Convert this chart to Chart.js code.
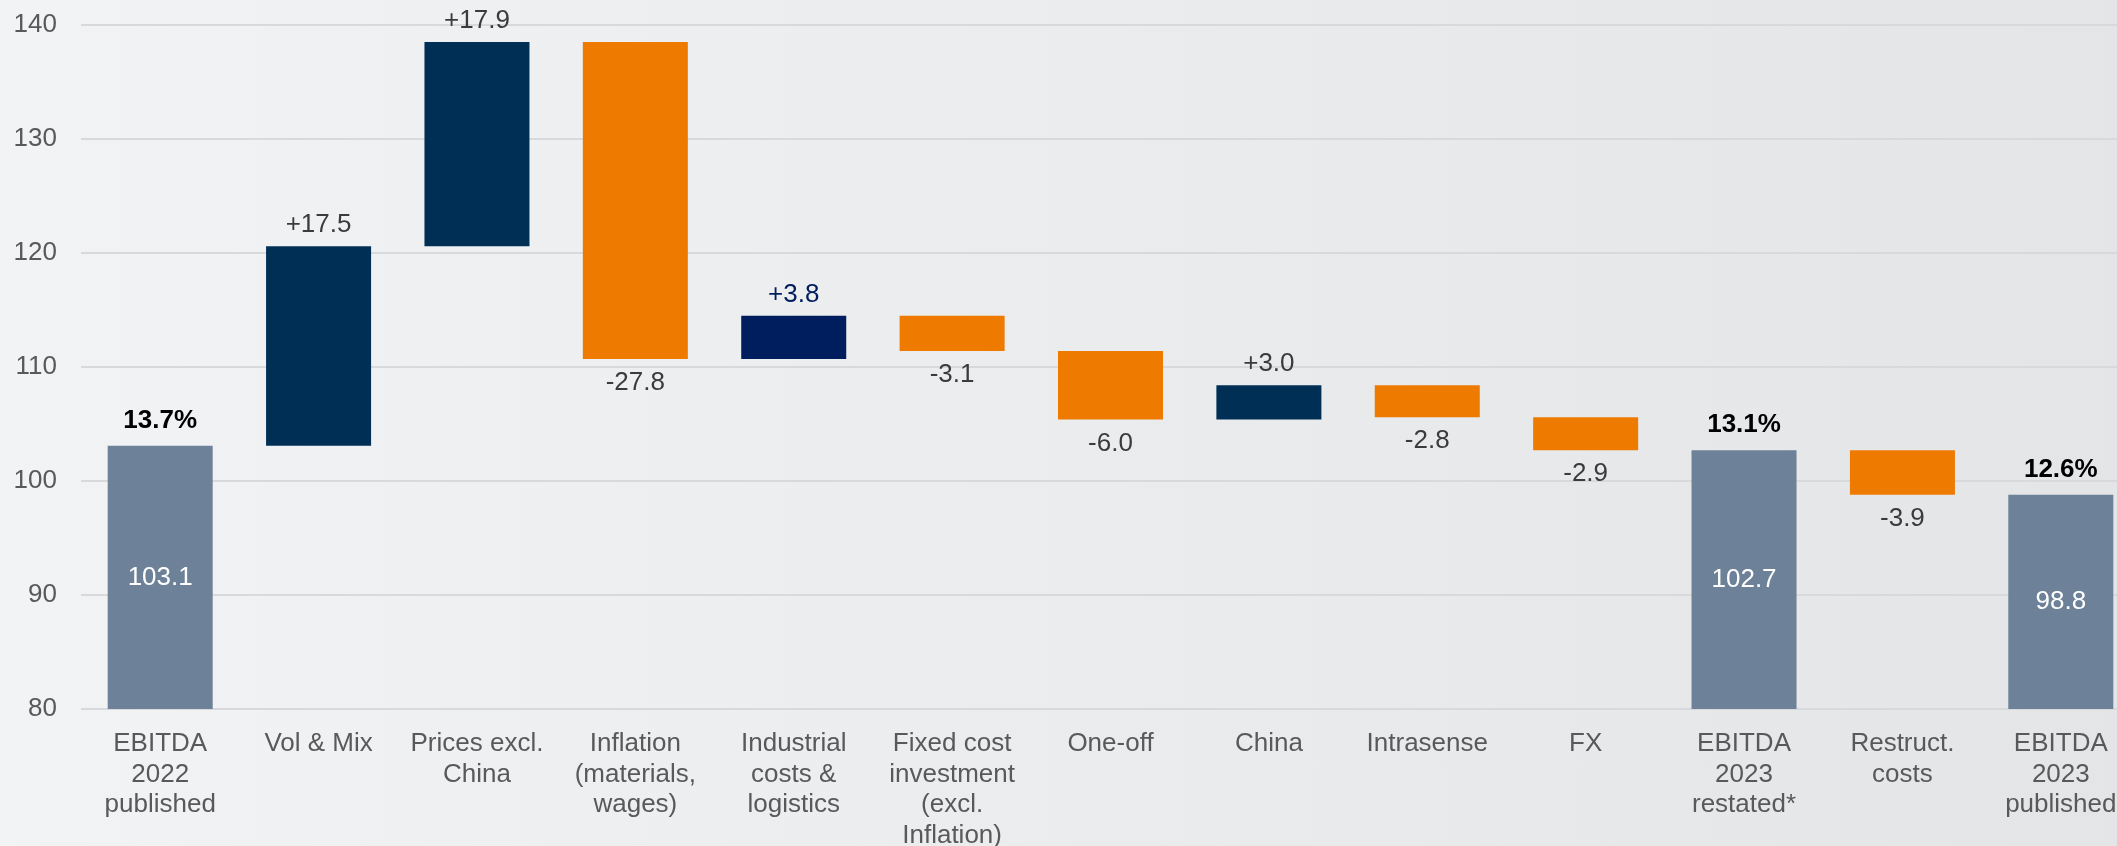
<!DOCTYPE html>
<html>
<head>
<meta charset="utf-8">
<script src="https://cdn.jsdelivr.net/npm/chart.js@4"></script>
<style>
html, body { margin: 0; padding: 0; overflow: hidden; }
body { background: linear-gradient(to right, #f2f3f5, #e4e5e7); width: 2117px; height: 846px; }
#wrap { width: 2140px; height: 846px; position: relative; }
</style>
</head>
<body>
<div id="wrap"><canvas id="bridgeChart"></canvas></div>
<script>

// ---------- DATA ----------

const categories = [
  ["EBITDA", "2022", "published"],
  "Vol & Mix",
  ["Prices excl.", "China"],
  ["Inflation", "(materials,", "wages)"],
  ["Industrial", "costs &", "logistics"],
  ["Fixed cost", "investment", "(excl.", "Inflation)"],
  "One-off",
  "China",
  "Intrasense",
  "FX",
  ["EBITDA", "2023", "restated*"],
  ["Restruct.", "costs"],
  ["EBITDA", "2023", "published"]
];

// "total" bars stand on the axis, the others float on the running sum
const barKinds = ["total", "step", "step", "step", "step", "step", "step", "step", "step", "step", "total", "step", "total"];
const barValues = [103.1, 17.5, 17.9, -27.8, 3.8, -3.1, -6.0, 3.0, -2.8, -2.9, 102.7, -3.9, 98.8];
const marginLabels = ["13.7%", "", "", "", "", "", "", "", "", "", "13.1%", "", "12.6%"];

const yMin = 80;
const yMax = 140;
const yStep = 10;


// ---------- STYLE ----------

const FONT = "'Liberation Sans', Arial, sans-serif";
const totalColor = "#6d8298";
const upColor = "#002f56";
const downColor = "#ee7a00";
const industrialIndex = 4;
const industrialColor = "#001d5e";


// ---------- BUILD WATERFALL ----------

let running = 0;
const floatingBars = barValues.map(function(v, i){
  if(barKinds[i] === "total"){
    running = v;
    return [yMin, v];
  }
  const start = running;
  running = Math.round((running + v) * 10) / 10;
  return [start, running];
});

const barColors = barValues.map(function(v, i){
  if(barKinds[i] === "total") return totalColor;
  if(i === industrialIndex) return industrialColor;
  return v > 0 ? upColor : downColor;
});


// ---------- LABEL PLUGIN ----------

const bridgeLabels = {
  id: "bridgeLabels",
  afterDatasetsDraw(chart){
    const ctx = chart.ctx;
    const meta = chart.getDatasetMeta(0);
    ctx.save();
    ctx.textAlign = "center";
    ctx.textBaseline = "middle";
    meta.data.forEach(function(bar, i){
      const top = Math.min(bar.y, bar.base);
      const bottom = Math.max(bar.y, bar.base);
      const v = barValues[i];
      if(barKinds[i] === "total"){
        ctx.font = "26px " + FONT;
        ctx.fillStyle = "#ffffff";
        ctx.fillText(v.toFixed(1), bar.x, (top + bottom) / 2);
        if(marginLabels[i]){
          ctx.font = "bold 26px " + FONT;
          ctx.fillStyle = "#000000";
          ctx.fillText(marginLabels[i], bar.x, top - 25);
        }
      } else {
        ctx.font = "26px " + FONT;
        ctx.fillStyle = (i === industrialIndex) ? industrialColor : "#3b3b3b";
        if(v > 0){
          ctx.fillText("+" + v.toFixed(1), bar.x, top - 21);
        } else {
          ctx.fillText(v.toFixed(1), bar.x, bottom + 24);
        }
      }
    });
    ctx.restore();
  }
};


// ---------- CHART ----------

new Chart(document.getElementById("bridgeChart"), {
  type: "bar",
  data: {
    labels: categories,
    datasets: [{
      data: floatingBars,
      backgroundColor: barColors,
      borderWidth: 0,
      categoryPercentage: 1,
      barPercentage: 0.663
    }]
  },
  options: {
    responsive: true,
    maintainAspectRatio: false,
    animation: false,
    layout: { padding: { top: 25, left: 0, right: 0, bottom: 0 } },
    plugins: {
      legend: { display: false },
      tooltip: { enabled: false }
    },
    scales: {
      x: {
        grid: { display: false },
        border: { display: false },
        ticks: {
          color: "#595959",
          padding: 12,
          maxRotation: 0,
          autoSkip: false,
          font: { family: FONT, size: 26, lineHeight: 1.17 }
        },
        afterFit(scale){ scale.height = 137; }
      },
      y: {
        min: yMin,
        max: yMax,
        grid: { color: "#d8d9dc", lineWidth: 2, drawTicks: false },
        border: { display: false },
        ticks: {
          stepSize: yStep,
          color: "#595959",
          padding: 24,
          font: { family: FONT, size: 26 }
        },
        afterFit(scale){
          scale.width = 81;
          scale.paddingTop = 0;
          scale.paddingBottom = 0;
        }
      }
    }
  },
  plugins: [bridgeLabels]
});

</script>
</body>
</html>
